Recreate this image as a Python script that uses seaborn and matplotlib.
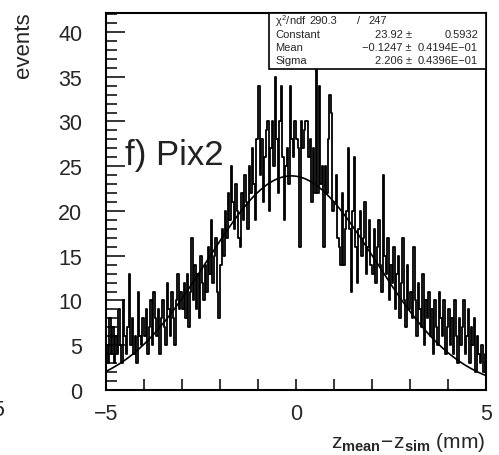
import numpy as np
import pandas as pd
import matplotlib
matplotlib.use('Agg')
import matplotlib.pyplot as plt
import seaborn as sns

# histogram contents, 250 bins of 0.04 mm from -5 to 5
counts = [
    5, 3, 8, 4, 7, 3, 6, 4, 9, 5, 3, 10, 6, 4, 7, 13, 5, 8, 4, 6, 3, 11, 6, 5, 8,
    6, 9, 4, 7, 10, 5, 11, 8, 6, 9, 4, 8, 10, 7, 5, 12, 9, 6, 11, 8, 5, 10, 13, 9, 11,
    9, 12, 8, 13, 7, 11, 17, 10, 14, 9, 13, 8, 15, 12, 10, 14, 11, 16, 13, 19, 12, 15, 17, 11, 8,
    14, 18, 15, 20, 17, 22, 19, 25, 21, 18, 23, 20, 17, 16, 22, 19, 24, 21, 18, 25, 22, 27, 23, 19, 28,
    34, 24, 28, 21, 26, 29, 30, 20, 27, 30, 25, 35, 28, 22, 30, 34, 26, 19, 25, 27, 23, 34, 28, 26, 30,
    28, 27, 16, 30, 27, 29, 30, 30, 26, 28, 21, 27, 22, 38, 22, 34, 23, 25, 16, 25, 22, 28, 33, 31, 20,
    21, 24, 17, 16, 14, 22, 14, 18, 20, 27, 18, 11, 20, 26, 16, 12, 18, 20, 15, 17, 21, 13, 16, 19, 14,
    13, 18, 12, 16, 19, 14, 11, 24, 15, 13, 17, 10, 14, 12, 16, 9, 13, 15, 8, 12, 17, 10, 7, 14, 9,
    11, 8, 16, 10, 6, 12, 9, 7, 13, 5, 10, 8, 11, 6, 9, 4, 10, 7, 5, 11, 8, 6, 10, 4, 7,
    9, 5, 8, 4, 10, 6, 3, 8, 5, 7, 10, 4, 6, 9, 3, 7, 5, 8, 2, 6, 4, 3, 5, 2, 4,
]
x_min, x_max, n_bins = -5.0, 5.0, 250

# fit results shown in the stats box
fit_const, fit_mean, fit_sigma = 23.92, -0.1247, 2.206
stats_rows = [
    ('Constant', '23.92 \u00b1', '0.5932'),
    ('Mean', '\u22120.1247 \u00b1', '0.4194E\u221201'),
    ('Sigma', '2.206 \u00b1', '0.4396E\u221201'),
]

sns.set_style('ticks')
plt.rcParams['font.family'] = ['Liberation Sans', 'DejaVu Sans']
plt.rcParams['mathtext.fontset'] = 'custom'
plt.rcParams['mathtext.rm'] = 'Liberation Sans'
plt.rcParams['mathtext.it'] = 'Liberation Sans'
plt.rcParams['mathtext.bf'] = 'Liberation Sans:bold'

bw = (x_max - x_min) / n_bins
centers = x_min + bw * (np.arange(n_bins) + 0.5)
df = pd.DataFrame({'x': centers, 'n': counts})

fig = plt.figure(figsize=(4.99, 4.56), dpi=100)
ax = fig.add_axes([0.2124, 0.1425, 0.7616, 0.8265])

sns.histplot(data=df, x='x', weights='n', bins=n_bins, binrange=(x_min, x_max),
             element='step', fill=False, color='black', linewidth=1.3, ax=ax)

xs = np.linspace(x_min, x_max, 400)
fit = pd.DataFrame({'x': xs,
                    'y': fit_const * np.exp(-0.5 * ((xs - fit_mean) / fit_sigma) ** 2)})
sns.lineplot(data=fit, x='x', y='y', color='black', linewidth=1.2, ax=ax)

ax.set_xlim(x_min, x_max)
ax.set_ylim(0, 42.1)
ax.set_xticks([-5, 0, 5])
ax.set_xticklabels(['\u22125', '0', '5'])
ax.set_xticks(np.arange(-5, 6, 1), minor=True)
ax.set_yticks(np.arange(0, 41, 5))
ax.set_yticks(np.arange(0, 43, 1), minor=True)
ax.tick_params(axis='both', which='both', direction='in', width=1.3, labelsize=15.5,
               top=False, right=False)
ax.tick_params(axis='y', which='major', length=14, pad=17)
ax.tick_params(axis='y', which='minor', length=8)
ax.tick_params(axis='x', which='major', length=8, pad=9)
ax.tick_params(axis='x', which='minor', length=8)
for s in ax.spines.values():
    s.set_linewidth(1.5)
    s.set_color('black')
ax.set_xlabel('')
ax.set_ylabel('')

fig.text(0.048, 0.972, 'events', rotation=90, ha='center', va='top', fontsize=16)
fig.text(0.972, 0.004, r'$\mathrm{z}_{\mathbf{mean}}\!-\!\mathrm{z}_{\mathbf{sim}}$ (mm)',
         ha='right', va='bottom', fontsize=15)
ax.text(0.05, 0.626, 'f) Pix2', transform=ax.transAxes, fontsize=25, ha='left',
        va='center', color='#222222')
# partly visible label of the neighbouring panel
fig.text(0.008, 0.099, '5', fontsize=15.5, ha='right', va='center')

# stats box
bx0, by0 = 0.429, 0.851
ax.add_patch(plt.Rectangle((bx0, by0), 1 - bx0, 1 - by0, transform=ax.transAxes,
                           fill=True, facecolor='white', edgecolor='black',
                           linewidth=1.2, zorder=5))
row_y = [0.981, 0.945, 0.910, 0.875]
fs = 8
ax.text(0.445, row_y[0], r'$\chi^2$/ndf', transform=ax.transAxes, fontsize=fs,
        va='center', ha='left', zorder=6)
ax.text(0.535, row_y[0], '290.3', transform=ax.transAxes, fontsize=fs,
        va='center', ha='left', zorder=6)
ax.text(0.66, row_y[0], '/', transform=ax.transAxes, fontsize=fs,
        va='center', ha='left', zorder=6)
ax.text(0.69, row_y[0], '247', transform=ax.transAxes, fontsize=fs,
        va='center', ha='left', zorder=6)
for (name, val, err), yy in zip(stats_rows, row_y[1:]):
    ax.text(0.445, yy, name, transform=ax.transAxes, fontsize=fs, va='center',
            ha='left', zorder=6)
    ax.text(0.805, yy, val, transform=ax.transAxes, fontsize=fs, va='center',
            ha='right', zorder=6)
    ax.text(0.979, yy, err, transform=ax.transAxes, fontsize=fs, va='center',
            ha='right', zorder=6)

fig.savefig('out.png', dpi=100)
